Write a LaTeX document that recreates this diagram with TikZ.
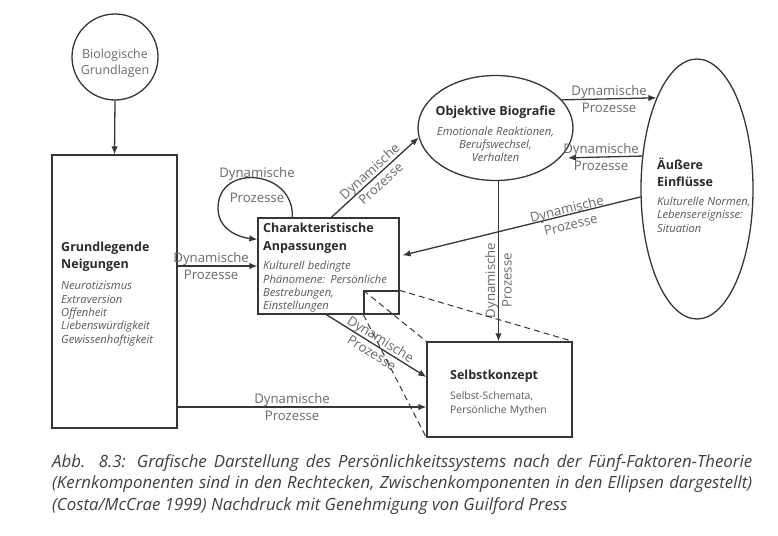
\documentclass[tikz,border=0pt]{standalone}
\usepackage{fontspec}
\setmainfont{Open Sans}
\usetikzlibrary{shapes.geometric,arrows.meta,calc}
\definecolor{lc}{HTML}{363636}
\definecolor{tc}{HTML}{6a6a6a}
\definecolor{hc}{HTML}{2a2a2a}
\definecolor{ic}{HTML}{5a5a5a}
\definecolor{capc}{HTML}{404040}
\newcommand\ttlf{\fontsize{12.5}{16.5}\selectfont\bfseries\color{hc}}
\newcommand\itf{\fontsize{11.2}{13.4}\selectfont\itshape\color{ic}}
\newcommand\rgf{\fontsize{10.4}{14}\selectfont\color{ic}}
\newcommand\lblf{\fontsize{13.2}{16.5}\selectfont\color{tc}}
\newcommand\capf{\fontsize{16.8}{21.5}\selectfont\itshape\color{capc}}
\tikzset{
  shapeline/.style={draw=lc, line width=1.3pt},
  rectbox/.style={shapeline, rectangle, inner sep=0pt},
  ellbox/.style={shapeline, ellipse, inner sep=0pt},
  conn/.style={draw=lc, line width=1.3pt, -{Latex[length=8pt,width=6.5pt]}},
  dashl/.style={draw=lc, line width=1pt, dash pattern=on 6pt off 4pt},
  lbl/.style={font=\lblf, align=center, inner sep=0pt},
  txt/.style={inner sep=0pt, align=left},
}
\begin{document}
\begin{tikzpicture}[x=1pt,y=-1pt]
\fill[white] (0,0) rectangle (778,535);
\useasboundingbox (0,0) rectangle (778,535);

% shapes
\node[shapeline, circle, minimum size=86pt, inner sep=0pt] (bio) at (115,57) {};
\node[lbl, font=\fontsize{12.4}{16}\selectfont\color{tc}] (biot) at (115,63) {Biologische\\Grundlagen};

\node[rectbox, minimum width=125pt, minimum height=273pt] (grund) at (114.5,291.5) {};
\node[txt, anchor=north west, text width=112pt] (grundt) at (61,242)
  {{\ttlf Grundlegende\\Neigungen\par}\vspace{8pt}%
   {\itf Neurotizismus\\Extraversion\\Offenheit\\Liebenswürdigkeit\\Gewissenhaftigkeit\par}};

\node[rectbox, minimum width=141pt, minimum height=96pt] (char) at (328.5,266) {};
\node[txt, anchor=north west, text width=134pt] (chart) at (263,223)
  {{\ttlf Charakteristische\\[1pt]Anpassungen\par}\vspace{6pt}%
   {\itf Kulturell bedingte\\Phänomene: Persönliche\\Bestrebungen,\\Einstellungen\par}};
\node[rectbox, minimum width=35pt, minimum height=23pt, anchor=south east] (sq) at (char.south east) {};

\node[ellbox, minimum width=155pt, minimum height=105pt] (obj) at (495.5,128) {};
\node[txt, align=center, anchor=north, text width=150pt] (objt) at (495.5,106)
  {{\ttlf Objektive Biografie\par}\vspace{6pt}%
   {\itf\centering Emotionale Reaktionen,\\Berufswechsel,\\Verhalten\par}};

\node[ellbox, minimum width=112pt, minimum height=260pt] (aus) at (697,189) {};
\node[txt, anchor=north west, text width=95pt] (aust) at (657,158)
  {{\ttlf Äußere\\Einflüsse\par}\vspace{6pt}%
   {\itf Kulturelle Normen,\\Lebensereignisse:\\Situation\par}};

\node[rectbox, minimum width=145pt, minimum height=95pt] (selbst) at (499.5,389.5) {};
\node[txt, anchor=north west, text width=118pt] (selbstt) at (450,370)
  {{\ttlf Selbstkonzept\par}\vspace{6pt}%
   {\rgf Selbst-Schemata,\\Persönliche Mythen\par}};

% connectors
\draw[conn] (bio.south) -- (grund.north);

\draw[conn] (grund.east |- char.west) -- (char.west)
  node[lbl, pos=0.42] (l1) {Dynamische\\Prozesse};

\coordinate (sk) at ($(selbst.west)+(0,17.5)$);
\draw[conn] (grund.east |- sk) -- (sk)
  node[lbl, pos=0.46] (l2) {Dynamische\\Prozesse};

\coordinate (loopstart) at ([xshift=35pt]char.north west);
\coordinate (loopend) at ([yshift=-22pt]char.north west);
\draw[conn] (loopstart) .. controls +(2,-48) and +(0,-45) .. (218,208)
  .. controls +(0,22) and +(-18,-2) .. (loopend);
\node[lbl] (l3a) at (257,174) {Dynamische};
\node[lbl] (l3b) at (257,198) {Prozesse};

\draw[conn] ([xshift=74pt]char.north west) -- (obj.187)
  node[lbl, midway, sloped] (l4) {Dynamische\\Prozesse};

\draw[conn] (obj.23) -- (aus.114.6)
  node[lbl, midway] (l5) {Dynamische\\Prozesse};

\draw[conn, shorten >=8pt] (aus.149.5) -- (obj.335.9)
  node[lbl, midway] (l6) {Dynamische\\Prozesse};

\draw[conn, shorten >=3pt] (aus.188) -- ([yshift=10pt]char.east)
  node[lbl, pos=0.3, sloped, yshift=-2pt] (l7) {Dynamische\\Prozesse};

\draw[conn] ([xshift=3pt]obj.south) -- ([xshift=3pt]obj.south |- selbst.north)
  node[lbl, pos=0.62, rotate=90] (l8) {Dynamische\\Prozesse};

\draw[conn] ([xshift=69pt]char.south west) -- ([yshift=12.5pt]selbst.west)
  node[lbl, midway, sloped] (l9) {Dynamische\\Prozesse};

% dashed projection lines
\draw[dashl] (sq.north west) -- (selbst.north west);
\draw[dashl] (sq.north east) -- (selbst.north east);
\draw[dashl] (sq.south west) -- (selbst.south west);

% caption
\node[txt, anchor=north west, font=\capf] (cap) at (52,454)
  {\makebox[700pt][s]{Abb. 8.3: Grafische Darstellung des Persönlichkeitssystems nach der Fünf-Faktoren-Theorie}\\
   \makebox[700pt][s]{(Kernkomponenten sind in den Rechtecken, Zwischenkomponenten in den Ellipsen dargestellt)}\\
   (Costa/McCrae 1999) Nachdruck mit Genehmigung von Guilford Press};
\end{tikzpicture}
\end{document}
